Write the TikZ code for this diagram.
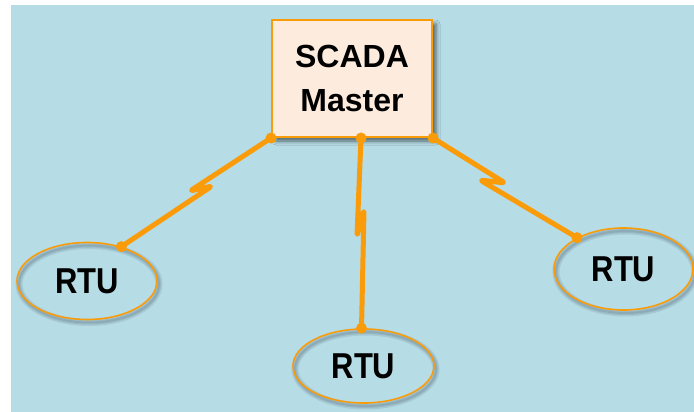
\documentclass[tikz,border=0pt]{standalone}
\usepackage{fontspec}
\setmainfont{Liberation Sans}
\usetikzlibrary{shapes.geometric,shadows.blur}
\definecolor{bgblue}{RGB}{182,220,230}
\definecolor{wire}{RGB}{250,155,10}
\definecolor{peach}{RGB}{253,235,222}
\definecolor{shade}{RGB}{60,80,95}

\begin{document}
\begin{tikzpicture}[x=1pt,y=-1pt,
  masterbox/.style={draw=wire, line width=2pt, fill=peach,
    minimum width=160pt, minimum height=117pt, inner sep=0pt, align=center,
    font=\bfseries\fontsize{32}{44}\selectfont,
    blur shadow={shadow xshift=4pt, shadow yshift=-4pt,
      shadow blur radius=4pt, shadow opacity=55}},
  rtu/.style={ellipse, draw=wire, line width=1.6pt, inner sep=0pt,
    font=\bfseries\fontsize{36}{40}\selectfont},
  ringshadow/.style={draw=shade, line width=#1, opacity=0.13},
  link/.style={draw=wire, line width=5pt, line cap=round, line join=round,
    rounded corners=3pt},
  joint/.style={fill=wire}
]
\useasboundingbox (0,0) rectangle (694,412);
\fill[white] (0,0) rectangle (694,412);
\fill[bgblue] (11,5) rectangle (694,412);

% centres of the three RTU ellipses
\coordinate (cL) at (87,281);
\coordinate (cR) at (623.5,269);
\coordinate (cB) at (363.5,366);

% soft shadow rings under the ellipses
\foreach \c/\rx/\ry in {cL/70/38.5, cR/69.5/41, cB/70.5/37}{
  \foreach \w in {2,4,7}{
    \draw[ringshadow=\w pt] ([xshift=2pt,yshift=-3pt]\c) ellipse [x radius=\rx, y radius=\ry];
  }
}

% master station
\node[masterbox] (master) at (352,78.5) {SCADA\\Master};

% remote terminal units
\node[rtu, minimum width=140pt, minimum height=77pt] (rtuL) at (cL) {\scalebox{0.86}[1]{RTU}};
\node[rtu, minimum width=139pt, minimum height=82pt] (rtuR) at (cR) {\scalebox{0.86}[1]{RTU}};
\node[rtu, minimum width=141pt, minimum height=74pt] (rtuB) at (cB) {\scalebox{0.86}[1]{RTU}};

% attachment points on the master box
\coordinate (mL) at (master.south west);
\coordinate (mM) at ([xshift=9pt]master.south);
\coordinate (mR) at (master.south east);

% radio links with lightning breaks
\coordinate (zLa) at (190,191);
\coordinate (zLb) at (212,186);
\coordinate (zMa) at (357,236);
\coordinate (zMb) at (364,210);
\coordinate (zRa) at (505,183);
\coordinate (zRb) at (480,180);

\draw[link] (mL) -- (zLa) -- (zLb) -- (rtuL.45);
\draw[link] (mM) -- (zMa) -- (zMb) -- (rtuB.93);
\draw[link] (mR) -- (zRa) -- (zRb) -- (rtuR.146);

% joints
\foreach \p in {mL,mM,mR,rtuL.45,rtuB.93,rtuR.146}{
  \fill[joint] (\p) circle (5.5);
}
\end{tikzpicture}
\end{document}
